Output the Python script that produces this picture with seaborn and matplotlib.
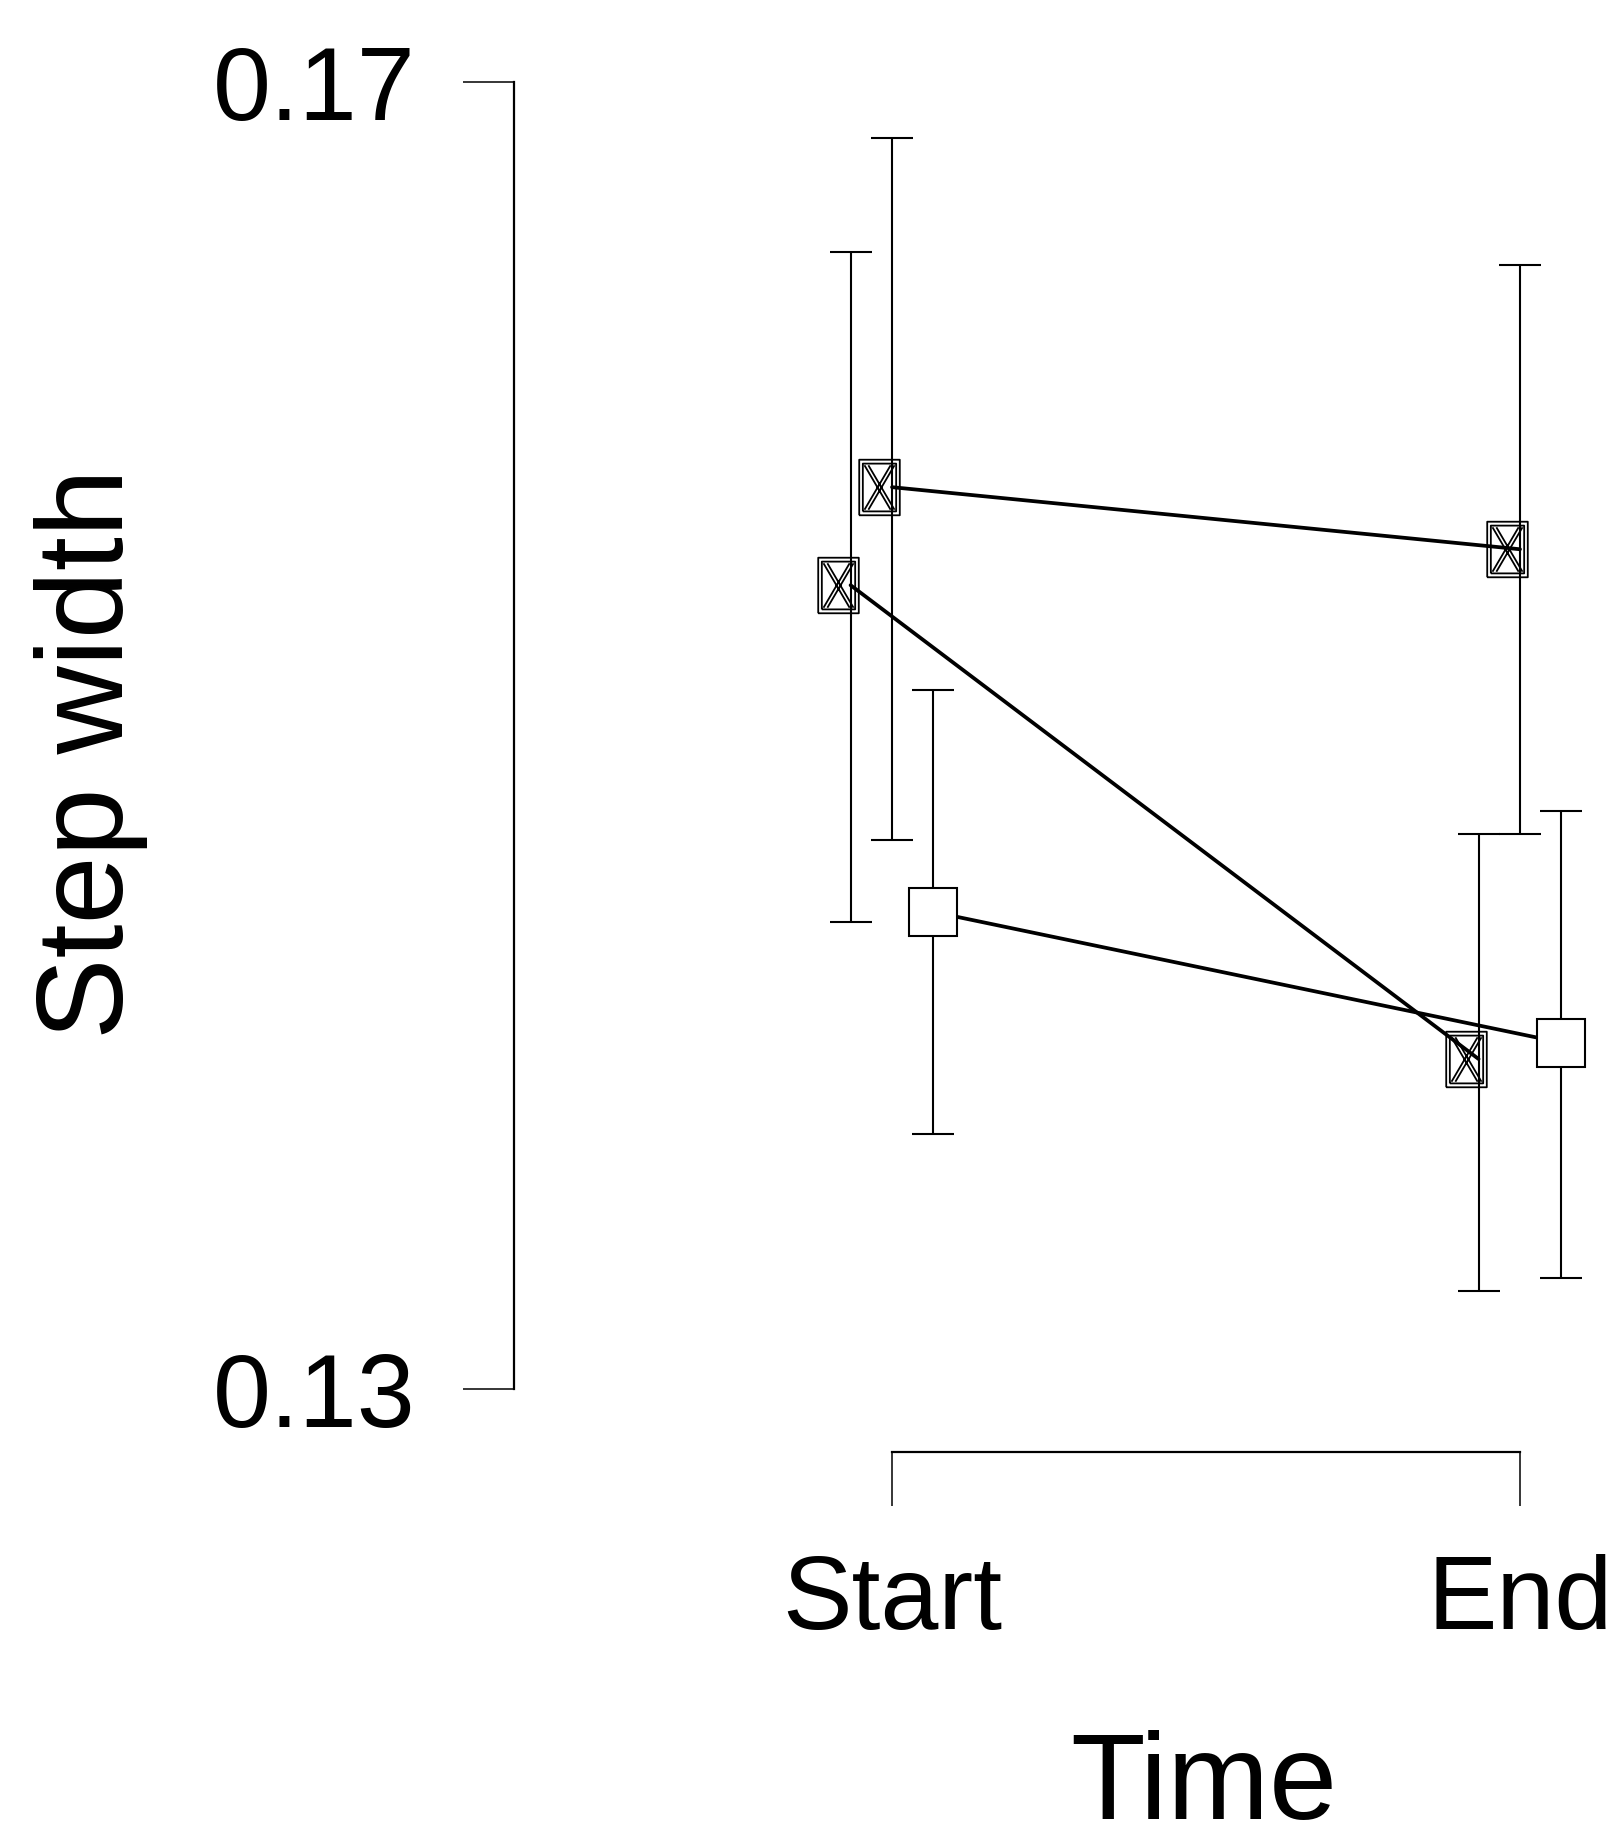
import numpy as np
import pandas as pd
import matplotlib
matplotlib.use("Agg")
import matplotlib.pyplot as plt
from matplotlib.path import Path
import matplotlib.transforms as mtransforms
import seaborn as sns

# data
times = ["Start", "End"]
groups = ["A", "B", "C"]
offsets = {"A": 0.0, "B": -0.066, "C": 0.066}
means = {"A": [0.1576, 0.1557], "B": [0.1546, 0.1401], "C": [0.1446, 0.1406]}
lower = {"A": [0.1468, 0.1470], "B": [0.1443, 0.1330], "C": [0.1378, 0.1334]}
upper = {"A": [0.1683, 0.1644], "B": [0.1648, 0.1470], "C": [0.1514, 0.1477]}
yticks = [0.13, 0.17]
ytick_labels = ["0.13", "0.17"]

rows = []
for g in groups:
    for i, t in enumerate(times):
        rows.append({"group": g, "time": t, "x": i + offsets[g], "mean": means[g][i],
                     "lo": lower[g][i], "hi": upper[g][i]})
df = pd.DataFrame(rows)

sns.set_style("white")
plt.rcParams["font.family"] = ["Liberation Sans", "DejaVu Sans"]
plt.rcParams["text.color"] = "black"
plt.rcParams["axes.labelcolor"] = "black"

fig = plt.figure(figsize=(16.12, 18.33), dpi=100)
ax = fig.add_axes([514 / 1612, 1 - 1453 / 1833, 1 - 514 / 1612, 1453 / 1833])

sns.lineplot(data=df, x="x", y="mean", hue="group", palette=["black"] * 3,
             legend=False, linewidth=2.7, ax=ax, zorder=2)

# error bars
for g in groups:
    d = df[df.group == g]
    ax.errorbar(d["x"], d["mean"], yerr=[d["mean"] - d["lo"], d["hi"] - d["mean"]],
                fmt="none", ecolor="black", elinewidth=1.5, capsize=15, capthick=1.5, zorder=3)

# boxed-cross marker (drawn slightly left of its point, as in the original)
verts = [(-0.73, -1), (0.73, -1), (0.73, 1), (-0.73, 1), (-0.73, -1),
         (-0.6, -0.86), (0.6, -0.86), (0.6, 0.86), (-0.6, 0.86), (-0.6, -0.86),
         (-0.54, 0.8), (0.4, -0.8), (-0.4, 0.8), (0.54, -0.8),
         (0.4, 0.8), (-0.54, -0.8), (0.54, 0.8), (-0.4, -0.8)]
codes = ([Path.MOVETO] + [Path.LINETO] * 4) * 2 + [Path.MOVETO, Path.LINETO] * 4
xbox = Path(verts, codes)
shift = mtransforms.offset_copy(ax.transData, fig=fig, x=-13, y=0, units="dots")

for g in ["A", "B"]:
    d = df[df.group == g]
    ax.plot(d["x"], d["mean"], linestyle="none", marker=xbox, markersize=40,
            markerfacecolor="none", markeredgecolor="black", markeredgewidth=1.3,
            zorder=4, transform=shift)
d = df[df.group == "C"]
ax.plot(d["x"], d["mean"], linestyle="none", marker="s", markersize=35,
        markerfacecolor="white", markeredgecolor="black", markeredgewidth=1.5, zorder=4)

ax.set_xlim(-0.602, (1612 - 892) / 628)
ax.set_ylim(0.13 - 63 / 32675, 0.17 + 83 / 32675)

for s in ["top", "right"]:
    ax.spines[s].set_visible(False)
ax.spines["left"].set_bounds(0.13, 0.17)
ax.spines["bottom"].set_bounds(0, 1)
for s in ["left", "bottom"]:
    ax.spines[s].set_color("black")
    ax.spines[s].set_linewidth(1.6)

ax.set_yticks(yticks)
ax.set_yticklabels(ytick_labels)
ax.set_xticks([0, 1])
ax.set_xticklabels(times)
ax.tick_params(axis="y", length=37, width=1.1, pad=34, labelsize=75, colors="black", left=True)
ax.tick_params(axis="x", length=39, width=1.1, pad=34, labelsize=75, colors="black", bottom=True)
ax.set_xlabel("")
ax.set_ylabel("")

fig.text(91 / 1612, 1 - 754 / 1833, "Step width", rotation=90, ha="center", va="center", fontsize=88)
fig.text(1204 / 1612, 1 - 1787 / 1833, "Time", ha="center", va="center", fontsize=88)

fig.savefig("out.png", dpi=100)
